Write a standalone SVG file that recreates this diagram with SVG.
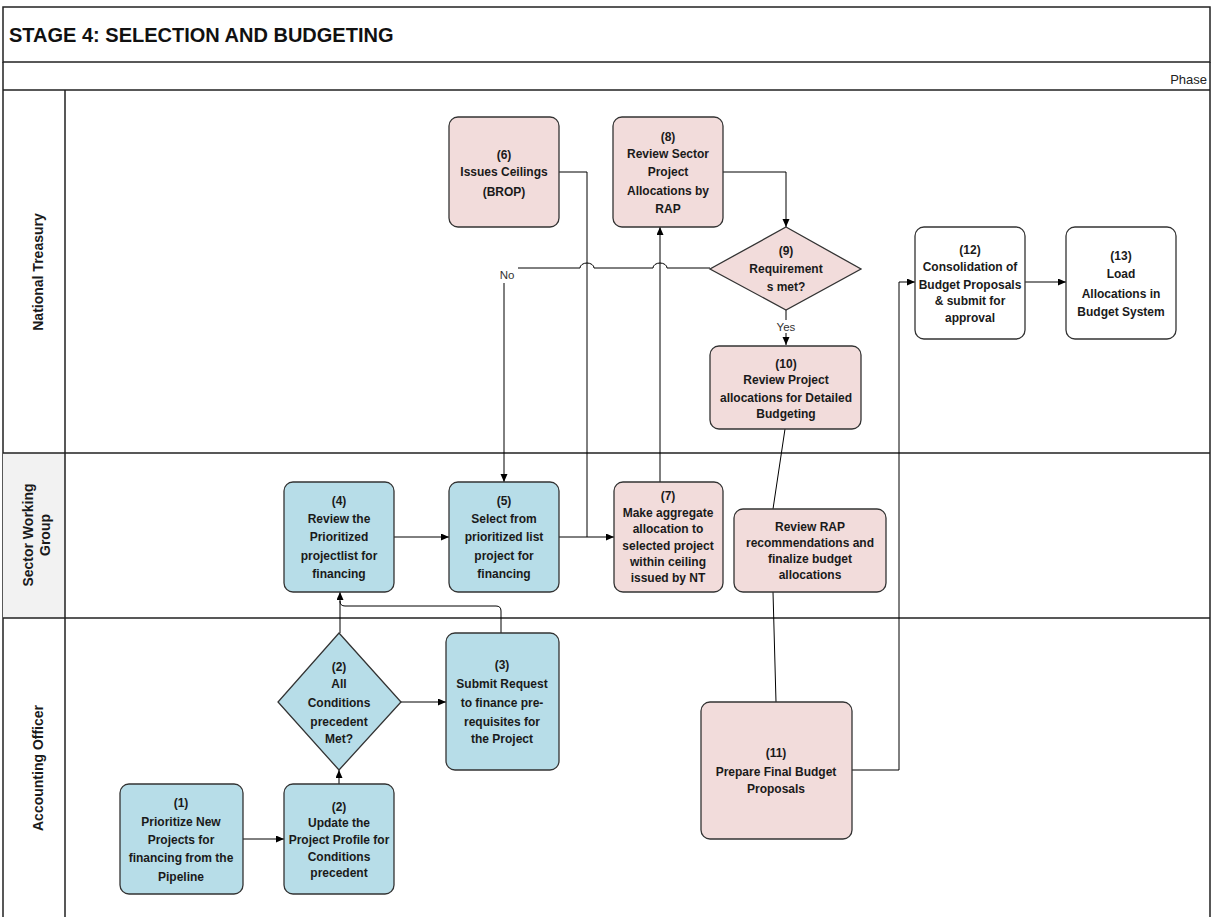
<svg xmlns="http://www.w3.org/2000/svg" width="1214" height="917" viewBox="0 0 1214 917">
<defs>
<marker id="arr" markerUnits="userSpaceOnUse" markerWidth="9" markerHeight="8" refX="8" refY="3.5" orient="auto">
<path d="M0,0 L8,3.5 L0,7 z" fill="#000"/>
</marker>
<style>
.frame{fill:none;stroke:#222;stroke-width:1.5}
.blue{fill:#b7dde8;stroke:#333;stroke-width:1.3}
.pink{fill:#f2dcdb;stroke:#333;stroke-width:1.3}
.white{fill:#fff;stroke:#333;stroke-width:1.3}
.t{font-family:"Liberation Sans",Arial,sans-serif;font-size:12px;font-weight:bold;fill:#1a1a1a;text-anchor:middle}
.lane{font-family:"Liberation Sans",Arial,sans-serif;font-size:14px;font-weight:bold;fill:#1a1a1a;text-anchor:middle}
.c{fill:none;stroke:#000;stroke-width:1}
.lbl{font-family:"Liberation Sans",Arial,sans-serif;font-size:11.5px;fill:#333;text-anchor:middle}
</style>
</defs>
<rect width="1214" height="917" fill="#fff"/>
<g id="frame">
<rect x="3" y="7" width="1207" height="55" class="frame"/>
<text x="9" y="42" style="font-family:'Liberation Sans',Arial,sans-serif;font-size:20px;font-weight:bold;fill:#111">STAGE 4: SELECTION AND BUDGETING</text>
<path class="frame" d="M3,62 V917 M1210,62 V917 M3,90 H1210"/>
<text x="1207" y="84" style="font-family:'Liberation Sans',Arial,sans-serif;font-size:13px;fill:#222;text-anchor:end">Phase</text>
<rect x="3" y="453" width="62" height="165" fill="#f2f2f2"/>
<path class="frame" d="M65,90 V917 M3,453 H1210 M3,618 H1210"/>
<text class="lane" transform="translate(43,272) rotate(-90)">National Treasury</text>
<text class="lane" transform="translate(33,535) rotate(-90)">Sector Working</text>
<text class="lane" transform="translate(50,535) rotate(-90)">Group</text>
<text class="lane" transform="translate(43,768) rotate(-90)">Accounting Officer</text>
</g>
<g id="connectors">
<path class="c" marker-end="url(#arr)" d="M243,839 H284"/>
<path class="c" marker-end="url(#arr)" d="M339,784 V770"/>
<path class="c" marker-end="url(#arr)" d="M401,702 H446"/>
<path class="c" marker-end="url(#arr)" d="M340,633 V592"/>
<path class="c" d="M501,633 V611 Q501,606 496,606 H345 Q340,606 340,601"/>
<path class="c" marker-end="url(#arr)" d="M394,537 H449"/>
<path class="c" marker-end="url(#arr)" d="M559,537 H614"/>
<path class="c" d="M559,172 H587 V537"/>
<path class="c" marker-end="url(#arr)" d="M660,482 V227"/>
<path class="c" marker-end="url(#arr)" d="M723,172 H786 V227"/>
<path class="c" marker-end="url(#arr)" d="M786,310 V345"/>
<rect x="774" y="320" width="24" height="13" fill="#fff"/>
<text class="lbl" x="786" y="331">Yes</text>
<path class="c" d="M710,268 H667 A7,5 0 0 0 653,268 H594 A7,5 0 0 0 580,268 H518"/>
<text class="lbl" x="507" y="279">No</text>
<path class="c" marker-end="url(#arr)" d="M504,283 V482"/>
<path class="c" d="M785,429 L773,509"/>
<path class="c" d="M773,592 L776,702"/>
<path class="c" marker-end="url(#arr)" d="M852,770 H899 V282 H915"/>
<path class="c" marker-end="url(#arr)" d="M1025,282 H1066"/>
</g>
<g id="n1">
<rect class="blue" x="120" y="784" width="123" height="110" rx="9"/>
<text class="t" x="181" y="807">(1)</text>
<text class="t" x="181" y="826">Prioritize New</text>
<text class="t" x="181" y="844">Projects for</text>
<text class="t" x="181" y="862">financing from the</text>
<text class="t" x="181" y="881">Pipeline</text>
</g>
<g id="n2u">
<rect class="blue" x="284" y="784" width="110" height="110" rx="9"/>
<text class="t" x="339" y="811">(2)</text>
<text class="t" x="339" y="827">Update the</text>
<text class="t" x="339" y="844">Project Profile for</text>
<text class="t" x="339" y="861">Conditions</text>
<text class="t" x="339" y="877">precedent</text>
</g>
<g id="n2d">
<polygon class="blue" points="339,633 401,702 339,770 278,702"/>
<text class="t" x="339" y="671">(2)</text>
<text class="t" x="339" y="688">All</text>
<text class="t" x="339" y="707">Conditions</text>
<text class="t" x="339" y="726">precedent</text>
<text class="t" x="339" y="743">Met?</text>
</g>
<g id="n3">
<rect class="blue" x="446" y="633" width="113" height="137" rx="9"/>
<text class="t" x="502" y="669">(3)</text>
<text class="t" x="502" y="688">Submit Request</text>
<text class="t" x="502" y="707">to finance pre-</text>
<text class="t" x="502" y="726">requisites for</text>
<text class="t" x="502" y="743">the Project</text>
</g>
<g id="n4">
<rect class="blue" x="284" y="482" width="110" height="110" rx="9"/>
<text class="t" x="339" y="505">(4)</text>
<text class="t" x="339" y="523">Review the</text>
<text class="t" x="339" y="541">Prioritized</text>
<text class="t" x="339" y="560">projectlist for</text>
<text class="t" x="339" y="578">financing</text>
</g>
<g id="n5">
<rect class="blue" x="449" y="482" width="110" height="110" rx="9"/>
<text class="t" x="504" y="505">(5)</text>
<text class="t" x="504" y="523">Select from</text>
<text class="t" x="504" y="541">prioritized list</text>
<text class="t" x="504" y="560">project for</text>
<text class="t" x="504" y="578">financing</text>
</g>
<g id="n7">
<rect class="pink" x="614" y="482" width="109" height="110" rx="9"/>
<text class="t" x="668" y="500">(7)</text>
<text class="t" x="668" y="517">Make aggregate</text>
<text class="t" x="668" y="533">allocation to</text>
<text class="t" x="668" y="550">selected project</text>
<text class="t" x="668" y="566">within ceiling</text>
<text class="t" x="668" y="582">issued by NT</text>
</g>
<g id="n6">
<rect class="pink" x="449" y="117" width="110" height="110" rx="9"/>
<text class="t" x="504" y="159">(6)</text>
<text class="t" x="504" y="176">Issues Ceilings</text>
<text class="t" x="504" y="196">(BROP)</text>
</g>
<g id="n8">
<rect class="pink" x="613" y="117" width="110" height="110" rx="9"/>
<text class="t" x="668" y="141">(8)</text>
<text class="t" x="668" y="158">Review Sector</text>
<text class="t" x="668" y="176">Project</text>
<text class="t" x="668" y="195">Allocations by</text>
<text class="t" x="668" y="213">RAP</text>
</g>
<g id="n9">
<polygon class="pink" points="786,227 861,269 786,310 710,269"/>
<text class="t" x="786" y="255">(9)</text>
<text class="t" x="786" y="273">Requirement</text>
<text class="t" x="786" y="291">s met?</text>
</g>
<g id="n10">
<rect class="pink" x="710" y="346" width="151" height="83" rx="9"/>
<text class="t" x="786" y="368">(10)</text>
<text class="t" x="786" y="384">Review  Project</text>
<text class="t" x="786" y="402">allocations for Detailed</text>
<text class="t" x="786" y="418">Budgeting</text>
</g>
<g id="nRAP">
<rect class="pink" x="734" y="509" width="152" height="83" rx="9"/>
<text class="t" x="810" y="531">Review RAP</text>
<text class="t" x="810" y="547">recommendations and</text>
<text class="t" x="810" y="563">finalize budget</text>
<text class="t" x="810" y="579">allocations</text>
</g>
<g id="n11">
<rect class="pink" x="701" y="702" width="151" height="137" rx="9"/>
<text class="t" x="776" y="757">(11)</text>
<text class="t" x="776" y="776">Prepare Final Budget</text>
<text class="t" x="776" y="793">Proposals</text>
</g>
<g id="n12">
<rect class="white" x="915" y="227" width="110" height="112" rx="9"/>
<text class="t" x="970" y="254">(12)</text>
<text class="t" x="970" y="271">Consolidation of</text>
<text class="t" x="970" y="289">Budget Proposals</text>
<text class="t" x="970" y="305">&amp; submit for</text>
<text class="t" x="970" y="322">approval</text>
</g>
<g id="n13">
<rect class="white" x="1066" y="227" width="110" height="112" rx="9"/>
<text class="t" x="1121" y="260">(13)</text>
<text class="t" x="1121" y="278">Load</text>
<text class="t" x="1121" y="298">Allocations in</text>
<text class="t" x="1121" y="316">Budget System</text>
</g>
</svg>
